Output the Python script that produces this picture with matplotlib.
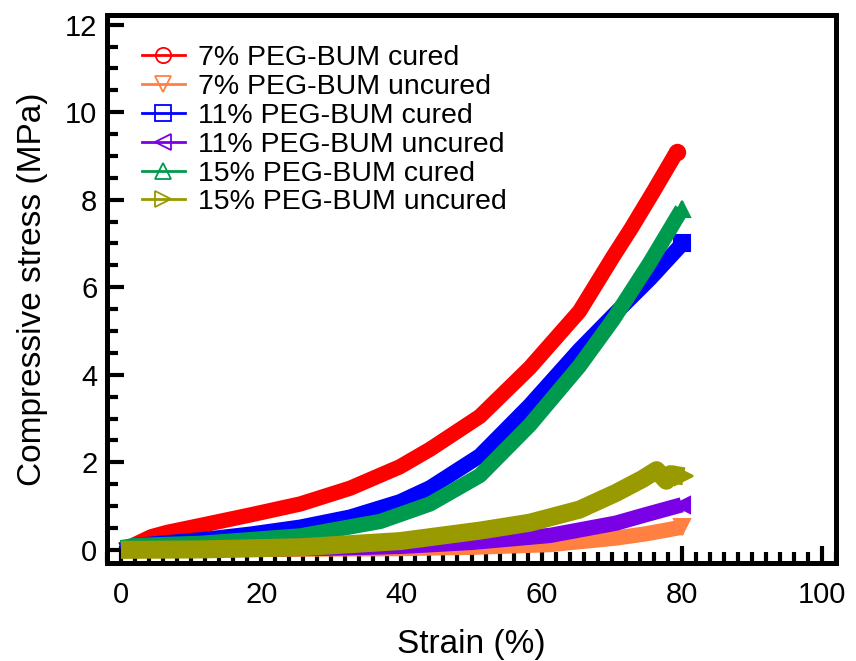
import matplotlib
matplotlib.use("Agg")
import matplotlib.pyplot as plt
from matplotlib.lines import Line2D
from matplotlib.ticker import MultipleLocator

plt.rcParams['font.family'] = ['Liberation Sans', 'DejaVu Sans']

# compression curves, strain (%) vs stress (MPa)
strain_7_cured = [0, 1.7, 4.3, 6.6, 11.4, 18.5, 25.6, 32.7, 39.8, 44.1, 51.2, 58.3, 65.4, 70.2, 72.8, 76.0, 79.3]
stress_7_cured = [0, 0.1, 0.3, 0.4, 0.56, 0.8, 1.05, 1.41, 1.9, 2.3, 3.05, 4.16, 5.45, 6.7, 7.35, 8.2, 9.1]

strain_7_uncured = [0, 10, 20, 30, 40, 50, 61.2, 70.6, 75, 80.1]
stress_7_uncured = [0, 0.0, 0.01, 0.02, 0.03, 0.06, 0.12, 0.27, 0.37, 0.52]

strain_11_cured = [0, 2, 11.4, 18.5, 25.6, 32.7, 39.8, 44.1, 51.2, 58.3, 65.4, 70.8, 75.5, 80.1]
stress_11_cured = [0, 0.1, 0.23, 0.36, 0.52, 0.75, 1.1, 1.42, 2.15, 3.3, 4.57, 5.45, 6.2, 7.0]

strain_11_uncured = [0, 10, 20, 30, 40, 50, 61.2, 70.6, 75, 80.0]
stress_11_uncured = [0, 0.01, 0.02, 0.04, 0.08, 0.17, 0.33, 0.61, 0.81, 1.03]

strain_15_cured = [0, 2, 11.4, 25.6, 37, 44.1, 51.2, 58.3, 65.4, 70.2, 75.4, 80.0]
stress_15_cured = [0.05, 0.1, 0.15, 0.32, 0.65, 1.05, 1.7, 2.85, 4.2, 5.26, 6.55, 7.78]

strain_15_uncured = [0, 11.4, 25.6, 39.8, 51.2, 58.3, 65.4, 70.6, 74.4, 76.4, 77.8, 78.4, 80.3]
stress_15_uncured = [0, 0.01, 0.06, 0.2, 0.44, 0.62, 0.92, 1.3, 1.62, 1.82, 1.58, 1.73, 1.68]

labels = ["7% PEG-BUM cured", "7% PEG-BUM uncured", "11% PEG-BUM cured",
          "11% PEG-BUM uncured", "15% PEG-BUM cured", "15% PEG-BUM uncured"]
colors = ["#ff0000", "#ff8040", "#0000ff", "#7a00e6", "#009a4e", "#999900"]
markers = ["o", "v", "s", "<", "^", ">"]

series = [
    (strain_7_cured, stress_7_cured),
    (strain_7_uncured, stress_7_uncured),
    (strain_11_cured, stress_11_cured),
    (strain_11_uncured, stress_11_uncured),
    (strain_15_cured, stress_15_cured),
    (strain_15_uncured, stress_15_uncured),
]
band_widths = [11, 11, 11, 11, 11, 13]

fig = plt.figure(figsize=(8.56, 6.61), dpi=100)
ax = fig.add_axes([107 / 856, 98 / 661, 729 / 856, 548 / 661])

# thick band per curve, with the end point shown as the series marker
for (x, y), c, m, w in zip(series, colors, markers, band_widths):
    ax.plot(x, y, color=c, lw=w, solid_capstyle="butt", solid_joinstyle="round",
            marker=m, markevery=[len(x) - 1], markersize=w, mfc=c, mec=c, mew=1.5)

handles = [Line2D([], [], color=c, lw=2, marker=m, markersize=11, mfc="none", mec=c, mew=1.3)
           for c, m in zip(colors, markers)]
ax.legend(handles, labels, loc="upper left", bbox_to_anchor=(0.048, 0.945),
          frameon=False, fontsize=20.5, borderaxespad=0, borderpad=0,
          handlelength=1.5, handletextpad=0.45, labelspacing=0.1)

ax.set_xlim(-2, 102)
ax.set_ylim(-0.3, 12.22)
ax.xaxis.set_major_locator(MultipleLocator(20))
ax.xaxis.set_minor_locator(MultipleLocator(2))
ax.yaxis.set_major_locator(MultipleLocator(2))
ax.yaxis.set_minor_locator(MultipleLocator(0.5))

for s in ax.spines.values():
    s.set_linewidth(3.6)
ax.tick_params(which="both", direction="in", top=False, right=False, width=3)
ax.tick_params(which="major", length=12.5, labelsize=21)
ax.tick_params(which="minor", length=8)
ax.tick_params(axis="x", which="major", pad=13)
ax.tick_params(axis="y", which="major", pad=7)

ax.set_xlabel("Strain (%)", fontsize=24, labelpad=14)
ax.set_ylabel("Compressive stress (MPa)", fontsize=24, labelpad=12)

fig.savefig("out.png", dpi=100)
